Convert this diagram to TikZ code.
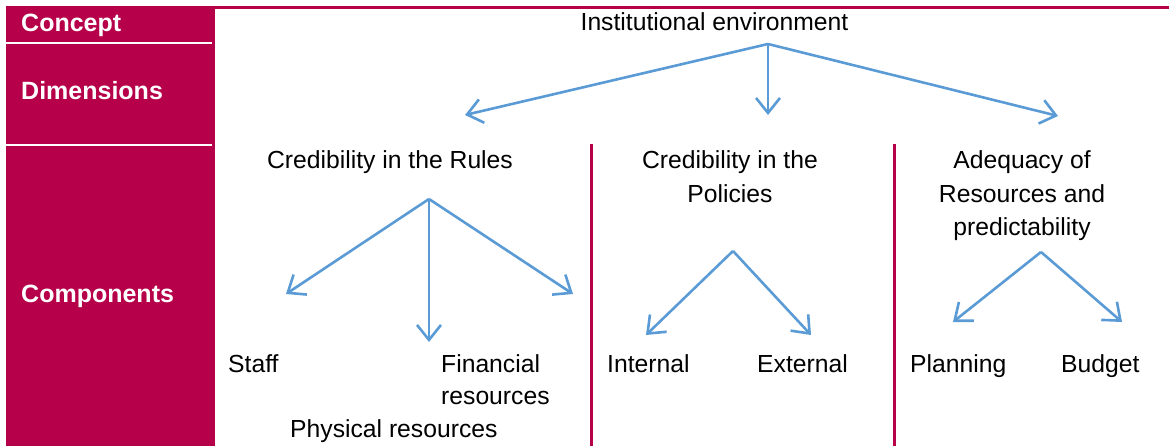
\documentclass[tikz,border=0pt]{standalone}
\usepackage{fontspec}
\setmainfont{Liberation Sans}
\usetikzlibrary{arrows.meta}
\definecolor{crimson}{RGB}{182,0,74}
\definecolor{arrowblue}{RGB}{91,155,213}
\begin{document}
\begin{tikzpicture}[x=1pt,y=-1pt,
  lbl/.style={inner sep=0pt,anchor=base west,font=\fontsize{24.7}{33}\selectfont},
  ctr/.style={inner sep=0pt,anchor=base,align=center,font=\fontsize{24.7}{33.5}\selectfont},
  side/.style={inner sep=0pt,anchor=base west,text=white,font=\fontsize{25}{30}\selectfont\bfseries},
  arr/.style={draw=arrowblue,line width=2.6pt,-{Straight Barb[length=15pt,width=24pt,line width=2.6pt]}},
  sep/.style={draw=crimson,line width=3pt}
]
\useasboundingbox (0,0) rectangle (1169,446);
% left column and top band
\fill[crimson] (6,6) rectangle (215,446);
\fill[crimson] (6,6) rectangle (1169,9);
\draw[white,line width=1.4pt] (6,43) -- (212,43);
\draw[white,line width=1.4pt] (6,145) -- (212,145);
% vertical separators
\coordinate (s1t) at (591,144); \coordinate (s1b) at (591,446);
\coordinate (s2t) at (894,144); \coordinate (s2b) at (894,446);
\draw[sep] (s1t) -- (s1b);
\draw[sep] (s2t) -- (s2b);
% side labels
\node[side] (concept) at (21,32) {Concept};
\node[side] (dims) at (21,100) {Dimensions};
\node[side] (comps) at (21,302) {Components};
% texts (base of a multi-line node = its last line)
\node[ctr] (inst) at (714.5,31) {Institutional environment};
\node[ctr] (rules) at (390,169) {Credibility in the Rules};
\node[ctr] (pol) at (730,202.5) {Credibility in the\\Policies};
\node[ctr] (adeq) at (1022,236) {Adequacy of\\Resources and\\predictability};
\node[lbl] (staff) at (228,372) {Staff};
\node[lbl] (fin) at (441,372) {Financial};
\node[lbl] (finb) at (441,404) {resources};
\node[lbl] (phys) at (290,437) {Physical resources};
\node[lbl] (int) at (607,372) {Internal};
\node[lbl] (ext) at (757,372) {External};
\node[lbl] (plan) at (910,372) {Planning};
\node[lbl] (bud) at (1061,372) {Budget};
% arrow sources and tips
\coordinate (o0) at (768,44);
\coordinate (t0a) at (465,115);
\coordinate (t0b) at (768,115);
\coordinate (t0c) at (1058,116);
\coordinate (o1) at (429,199);
\coordinate (t1a) at (286,294);
\coordinate (t1b) at (429,342);
\coordinate (t1c) at (573,294);
\coordinate (o2) at (733,251);
\coordinate (t2a) at (646,335);
\coordinate (t2b) at (811,335);
\coordinate (o3) at (1041,252);
\coordinate (t3a) at (953,322);
\coordinate (t3b) at (1122,322);
\draw[arr] (o0) -- (t0a);
\draw[arr] (o0) -- (t0b);
\draw[arr] (o0) -- (t0c);
\draw[arr] (o1) -- (t1a);
\draw[arr] (o1) -- (t1b);
\draw[arr] (o1) -- (t1c);
\draw[arr] (o2) -- (t2a);
\draw[arr] (o2) -- (t2b);
\draw[arr] (o3) -- (t3a);
\draw[arr] (o3) -- (t3b);
\end{tikzpicture}
\end{document}
